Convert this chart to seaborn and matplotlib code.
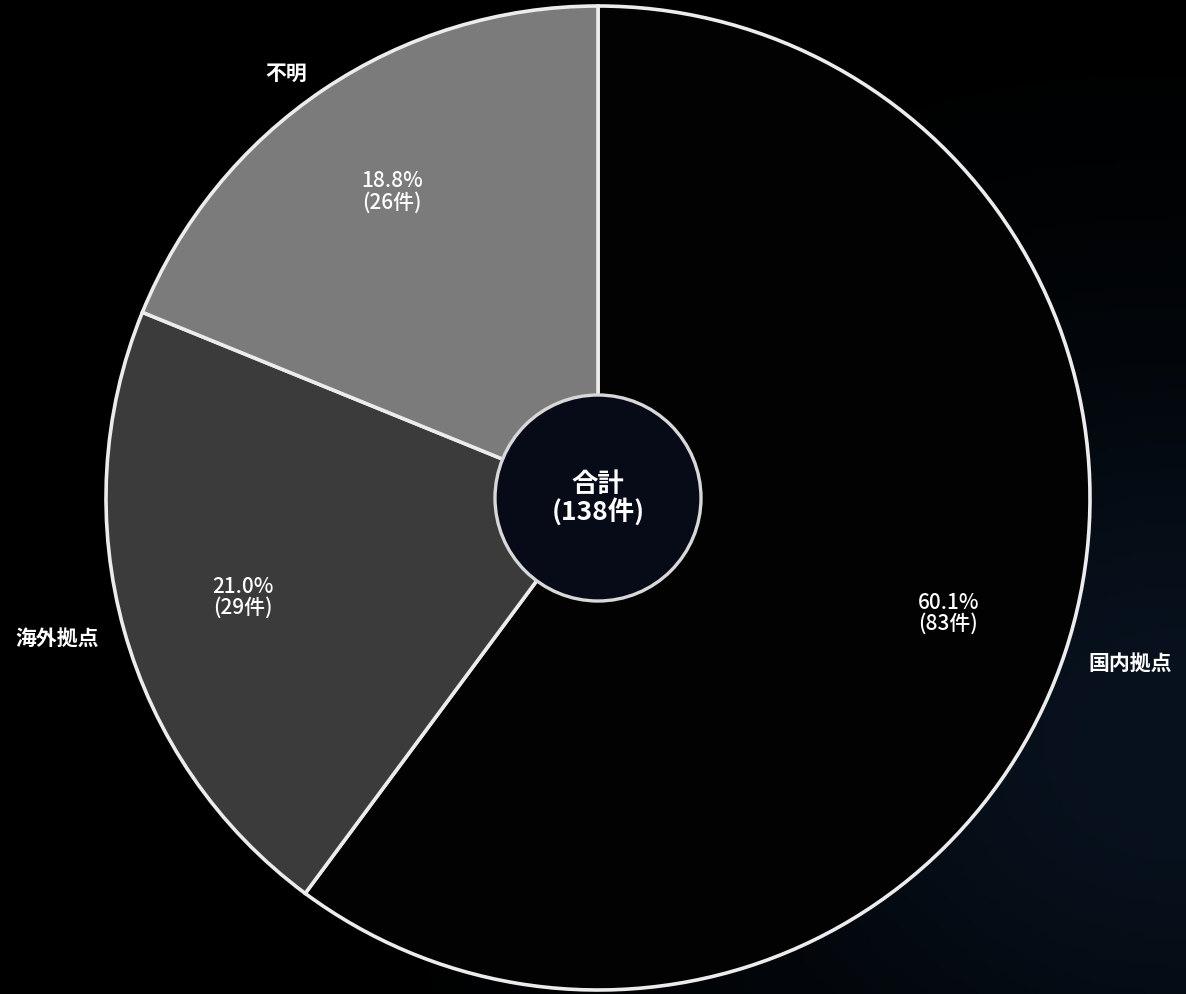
import numpy as np
import matplotlib
matplotlib.use("Agg")
import matplotlib.pyplot as plt
import seaborn as sns
from matplotlib.patches import Circle

categories = ["国内拠点", "海外拠点", "不明"]
counts = [83, 29, 26]
total_label = "合計"
slice_colors = ["#020202", "#3b3b3b", "#7b7b7b"]

sns.set_theme(style="dark")
plt.rcParams["font.family"] = ["Noto Sans CJK JP", "DejaVu Sans"]

W, H = 1186, 994
fig = plt.figure(figsize=(W / 100, H / 100), dpi=100, facecolor="black")

# background: black with a faint navy glow in the lower right
bg = fig.add_axes([0, 0, 1, 1])
yy, xx = np.mgrid[0:1:200j, 0:1:240j]
glow = np.exp(-(((xx - 1.0) / 0.40) ** 2 + ((yy - 0.75) / 0.40) ** 2))
img = np.zeros((200, 240, 3))
img[..., 0] = 0.03 * glow
img[..., 1] = 0.07 * glow
img[..., 2] = 0.12 * glow
bg.imshow(img, extent=[0, 1, 1, 0], aspect="auto", origin="upper")
bg.set_xlim(0, 1)
bg.set_ylim(1, 0)
bg.axis("off")

ax = fig.add_axes([0, 0, 1, 1])
ax.set_facecolor("none")

cx, cy, R = 598, 496, 492
total = sum(counts)

def fmt(p):
    n = int(round(p * total / 100.0))
    return f"{p:.1f}%\n({n}件)"

wedges, texts, autotexts = ax.pie(
    counts,
    labels=categories,
    colors=slice_colors,
    startangle=90,
    counterclock=False,
    center=(cx, cy),
    radius=R,
    labeldistance=1.13,
    pctdistance=0.75,
    autopct=fmt,
    wedgeprops=dict(edgecolor="#ececec", linewidth=2.6),
    textprops=dict(color="white"),
    frame=False,
)
ax.set_xlim(0, W)
ax.set_ylim(0, H)
ax.set_aspect("equal")
ax.axis("off")

# small nudges of the outer labels (pixels, y up)
label_nudges = [(4, 9), (-6, 10), (-2, -37)]
for t, (ddx, ddy) in zip(texts, label_nudges):
    x0, y0 = t.get_position()
    t.set_position((x0 + ddx, y0 + ddy))
    t.set_fontsize(15)
    t.set_fontweight("bold")
    t.set_color("white")
    t.set_horizontalalignment("center")
    t.set_verticalalignment("center")
for t in autotexts:
    t.set_fontsize(15)
    t.set_fontweight("medium")
    t.set_color("white")
    t.set_linespacing(0.95)

ax.add_patch(Circle((cx, cy), 103, facecolor="#070b17", edgecolor="#d8d8d8",
                    linewidth=2.4, zorder=5))
ax.text(cx, cy, f"{total_label}\n({total}件)", ha="center", va="center",
        color="white", fontsize=19, fontweight="bold", linespacing=1.0, zorder=6)

fig.savefig("out.png", dpi=100, facecolor="black")
